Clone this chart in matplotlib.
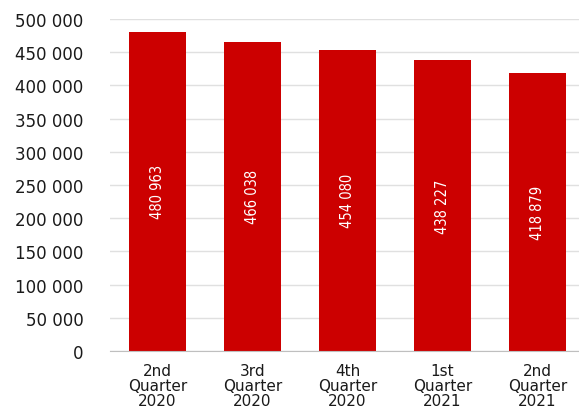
import matplotlib
matplotlib.use("Agg")
import matplotlib.pyplot as plt
from matplotlib.ticker import FuncFormatter, MultipleLocator

quarters = ["2nd\nQuarter\n2020", "3rd\nQuarter\n2020", "4th\nQuarter\n2020",
            "1st\nQuarter\n2021", "2nd\nQuarter\n2021"]
values = [480963, 466038, 454080, 438227, 418879]

def fmt(v, pos=None):
    return f"{int(v):,}".replace(",", " ")

fig = plt.figure(figsize=(5.79, 4.10), dpi=100)
ax = fig.add_axes([0.19, 0.1415, 0.81, 0.8095])

x = range(len(values))
ax.bar(x, values, width=0.61, color="#CC0000", zorder=3)

for i, v in zip(x, values):
    ax.text(i, v / 2, fmt(v), rotation=90, ha="center", va="center",
            color="white", fontsize=10.5, family="DejaVu Sans",
            fontstretch="condensed", zorder=4)

ax.set_ylim(0, 500000)
ax.set_xlim(-0.5, 4.437)
ax.yaxis.set_major_locator(MultipleLocator(50000))
ax.yaxis.set_major_formatter(FuncFormatter(fmt))
ax.set_xticks(list(x))
ax.set_xticklabels(quarters, fontsize=11, linespacing=1.0)
ax.tick_params(axis="y", labelsize=12, length=0, pad=19, colors="#1a1a1a")
ax.tick_params(axis="x", length=0, pad=9, colors="#1a1a1a")
ax.grid(axis="y", color="#e0e0e0", linewidth=1, zorder=0)
for s in ["top", "right", "left"]:
    ax.spines[s].set_visible(False)
ax.spines["bottom"].set_color("#bfbfbf")
ax.spines["bottom"].set_zorder(5)

fig.savefig("out.png", dpi=100)
